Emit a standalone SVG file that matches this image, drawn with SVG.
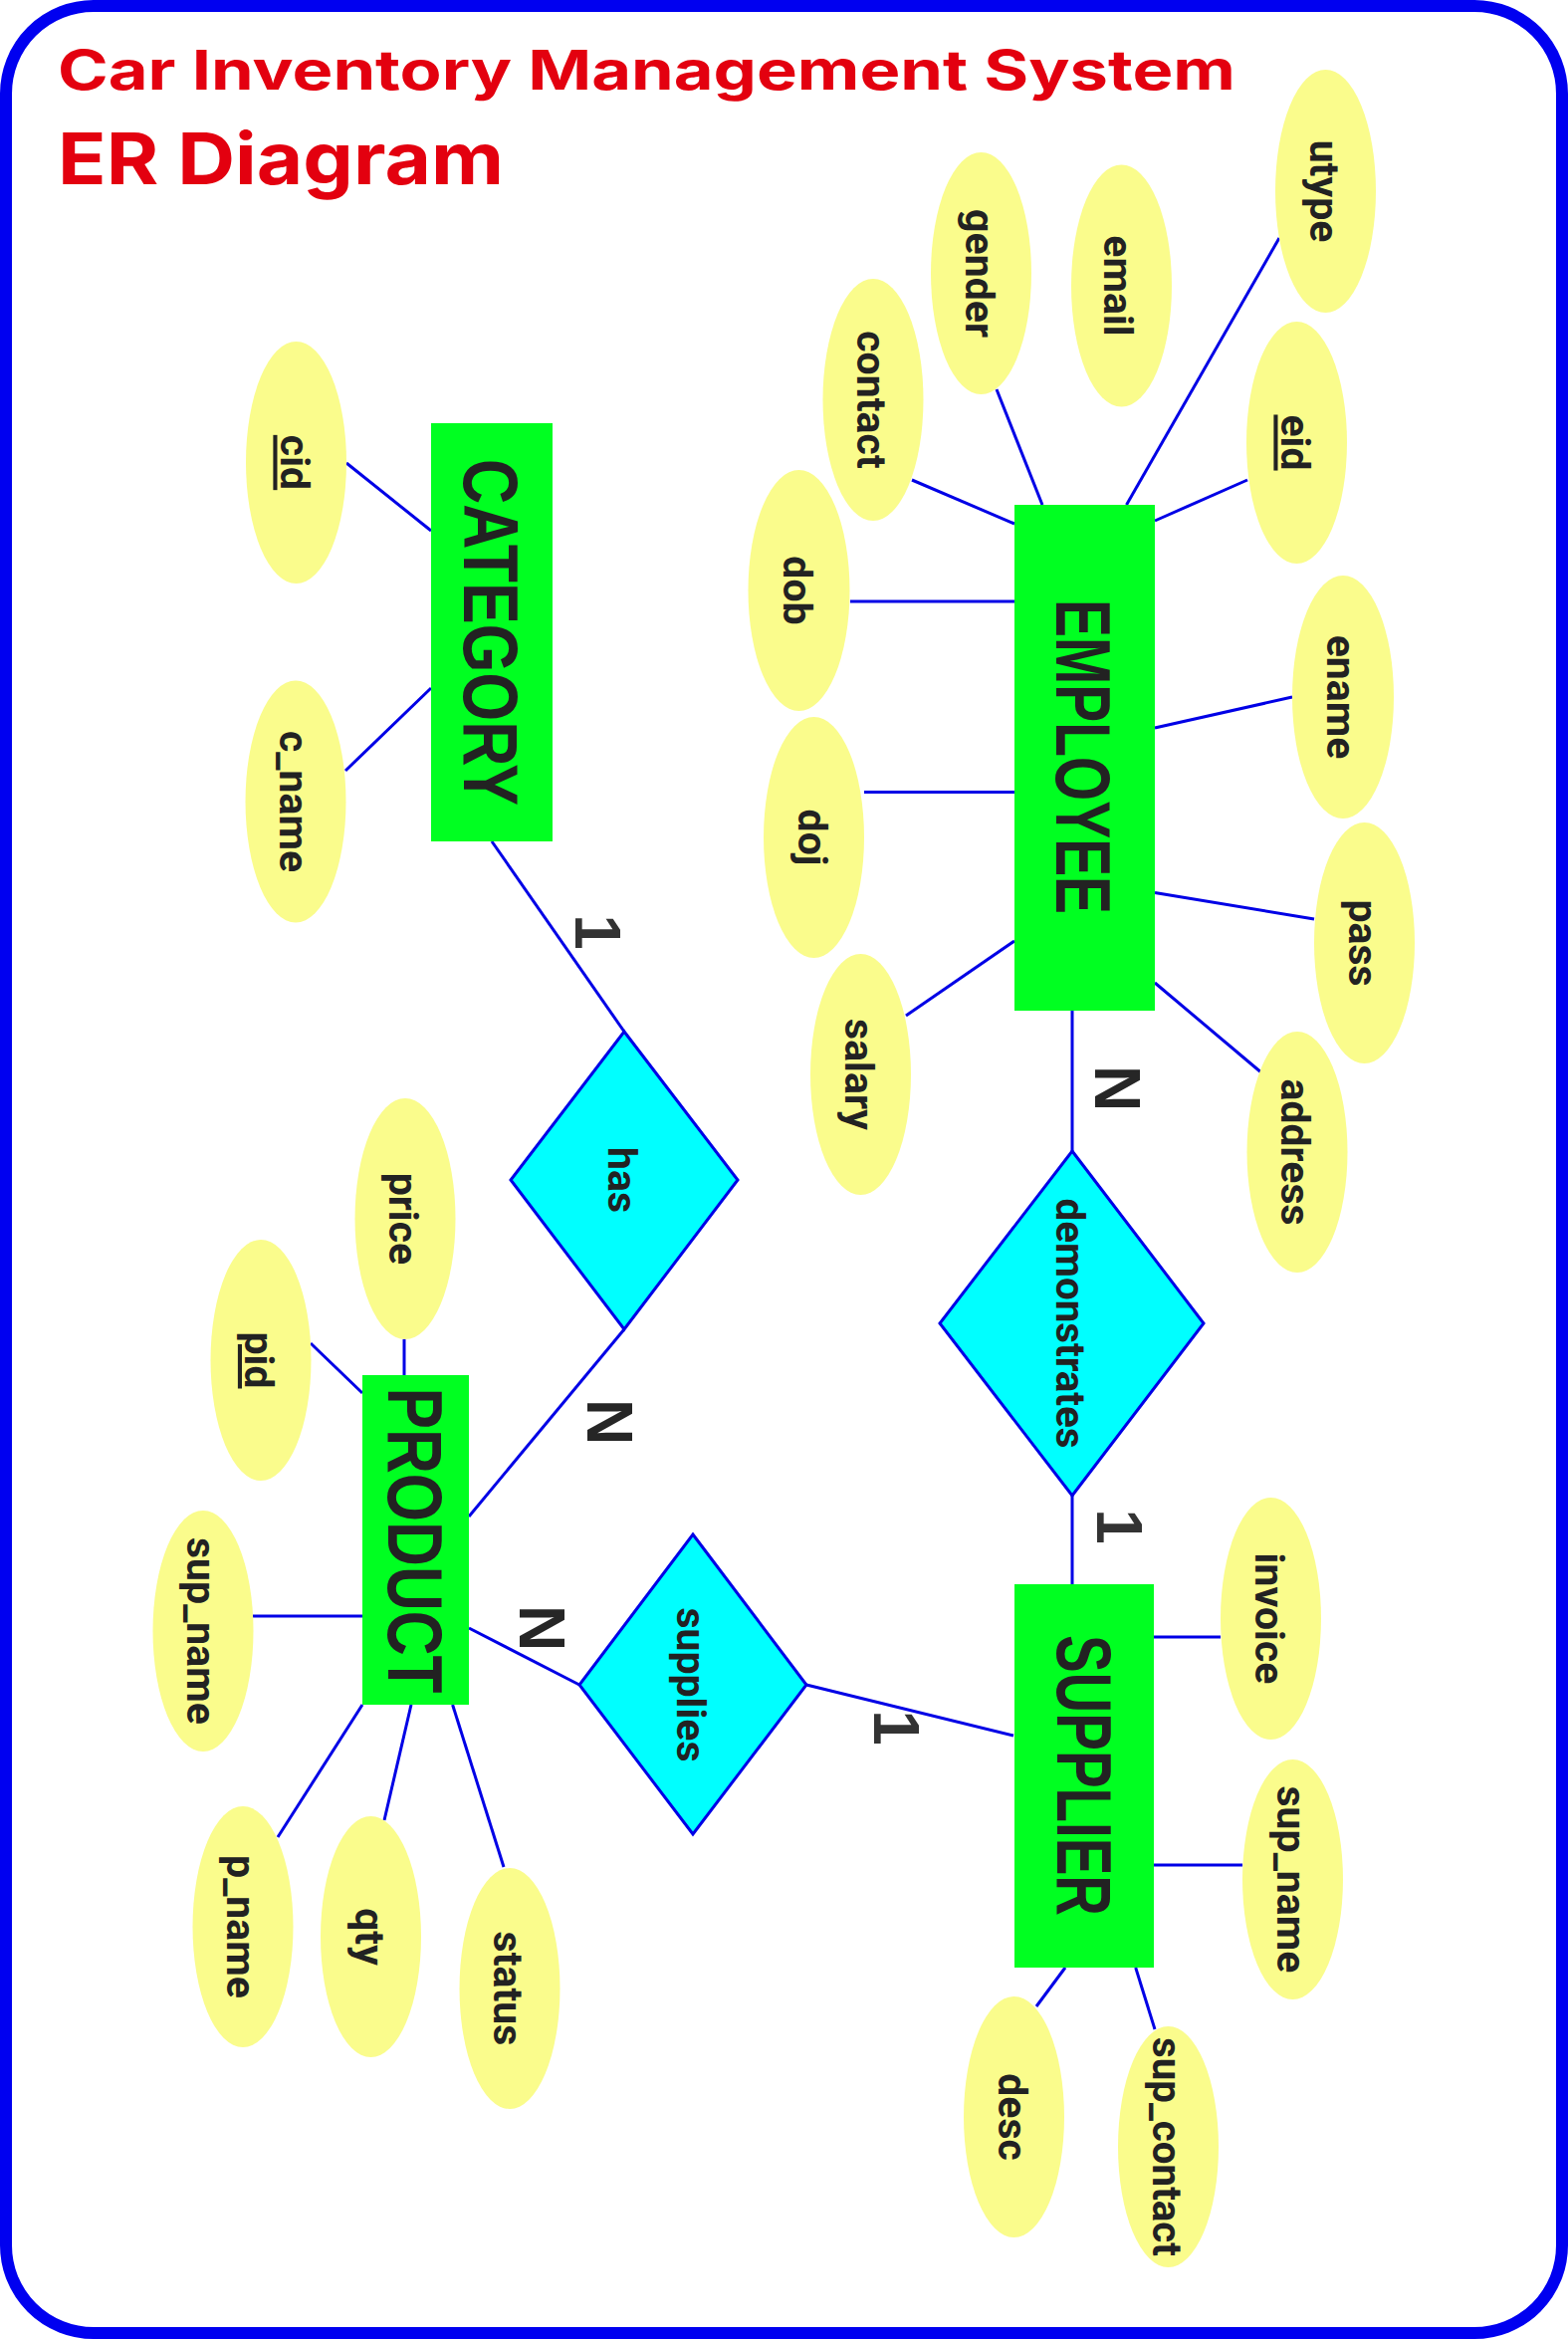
<svg xmlns="http://www.w3.org/2000/svg" width="1575" height="2349" viewBox="0 0 1575 2349">
<style>
.frame{fill:#ffffff;stroke:#0000f0;stroke-width:12}
.title{fill:#e3000f;font-family:Inter,"Open Sans","Liberation Sans",sans-serif;font-weight:700}
.ent rect{fill:#00ff21}
.ent text{fill:#222222;font-family:"Liberation Sans",Arial,sans-serif;font-weight:bold;font-size:78px;text-anchor:middle}
.rel polygon{fill:#00ffff;stroke:#0000e6;stroke-width:3}
.att ellipse{fill:#fafc8c}
.lbl{fill:#222222;font-family:Roboto,"Liberation Sans",Arial,sans-serif;font-weight:bold;font-size:41px;text-anchor:middle}
.key{text-decoration:underline}
.card{fill:#262626;font-family:"Liberation Sans",Arial,sans-serif;font-weight:bold;font-size:64px;text-anchor:middle}
.one{fill:#333333}
#connectors line{stroke:#0000e6;stroke-width:3}
</style>
<rect class="frame" x="6" y="6" width="1563" height="2337" rx="88" ry="88"/>
<text class="title" x="58" y="90" font-size="55" textLength="1183" lengthAdjust="spacingAndGlyphs">Car Inventory Management System</text>
<text class="title" x="58" y="185" font-size="72" textLength="448" lengthAdjust="spacingAndGlyphs">ER Diagram</text>

<g id="connectors">
<line x1="348" y1="465" x2="433" y2="533"/>
<line x1="347" y1="774" x2="433" y2="691"/>
<line x1="1001" y1="391" x2="1047" y2="507"/>
<line x1="1285" y1="239" x2="1131.5" y2="507"/>
<line x1="916" y1="482" x2="1019" y2="526"/>
<line x1="1253" y1="482" x2="1160" y2="523"/>
<line x1="854" y1="604" x2="1019" y2="604"/>
<line x1="1298" y1="700" x2="1160" y2="731"/>
<line x1="868" y1="795.5" x2="1019" y2="795.5"/>
<line x1="1320" y1="923" x2="1160" y2="896.5"/>
<line x1="910" y1="1020" x2="1019" y2="945"/>
<line x1="1268" y1="1078" x2="1160" y2="987"/>
<line x1="406" y1="1345" x2="406" y2="1381"/>
<line x1="312" y1="1349" x2="364" y2="1399"/>
<line x1="254" y1="1623" x2="364" y2="1623"/>
<line x1="279" y1="1845" x2="364" y2="1712"/>
<line x1="386" y1="1828" x2="413" y2="1712"/>
<line x1="506" y1="1875" x2="454.6" y2="1712"/>
<line x1="1159" y1="1644" x2="1226" y2="1644"/>
<line x1="1159" y1="1873" x2="1248" y2="1873"/>
<line x1="1041" y1="2015" x2="1070" y2="1976"/>
<line x1="1160" y1="2038" x2="1140.7" y2="1976"/>
<line x1="494" y1="845" x2="627" y2="1036"/>
<line x1="627" y1="1335" x2="471" y2="1523"/>
<line x1="1077" y1="1015" x2="1077" y2="1156"/>
<line x1="1077" y1="1502" x2="1077" y2="1591"/>
<line x1="471" y1="1635" x2="582" y2="1692"/>
<line x1="810" y1="1692" x2="1018" y2="1743"/>
</g>

<g id="category" class="ent">
<rect x="433" y="425" width="122" height="420"/>
<text transform="translate(494,635) rotate(90)" y="28" textLength="348" lengthAdjust="spacingAndGlyphs">CATEGORY</text>
</g>
<g id="employee" class="ent">
<rect x="1019" y="507" width="141" height="508"/>
<text transform="translate(1089,760) rotate(90)" y="28" textLength="316" lengthAdjust="spacingAndGlyphs">EMPLOYEE</text>
</g>
<g id="product" class="ent">
<rect x="364" y="1381" width="107" height="331"/>
<text transform="translate(417,1547) rotate(90)" y="27" textLength="307" lengthAdjust="spacingAndGlyphs">PRODUCT</text>
</g>
<g id="supplier" class="ent">
<rect x="1019" y="1591" width="140" height="385"/>
<text transform="translate(1089,1783) rotate(90)" y="27" textLength="282" lengthAdjust="spacingAndGlyphs">SUPPLIER</text>
</g>

<g id="has" class="rel">
<polygon points="627,1036 741,1185 627,1335 513,1185"/>
<text class="lbl" transform="translate(627,1185) rotate(90)" y="16">has</text>
</g>
<g id="demonstrates" class="rel">
<polygon points="1077,1156 1209,1329 1077,1502 944,1329"/>
<text class="lbl" transform="translate(1077,1329) rotate(90)" y="16" textLength="251" lengthAdjust="spacingAndGlyphs">demonstrates</text>
</g>
<g id="supplies" class="rel">
<polygon points="696,1541 810,1692 696,1842 582,1692"/>
<text class="lbl" transform="translate(696,1692) rotate(90)" y="16">supplies</text>
</g>

<g id="attr-cid" class="att"><ellipse cx="297.5" cy="464.5" rx="50.5" ry="121.5"/><text class="lbl key" transform="translate(297.5,464.5) rotate(90)" y="16">cid</text></g>
<g id="attr-c_name" class="att"><ellipse cx="297" cy="805" rx="50.5" ry="121.5"/><text class="lbl" transform="translate(297,805) rotate(90)" y="16">c_name</text></g>

<g id="attr-gender" class="att"><ellipse cx="985.5" cy="274.5" rx="50.5" ry="121.5"/><text class="lbl" transform="translate(985.5,274.5) rotate(90)" y="16">gender</text></g>
<g id="attr-email" class="att"><ellipse cx="1126.5" cy="287" rx="50.5" ry="121.5"/><text class="lbl" transform="translate(1126.5,287) rotate(90)" y="18">email</text></g>
<g id="attr-utype" class="att"><ellipse cx="1331.5" cy="192" rx="50.5" ry="122"/><text class="lbl" transform="translate(1331.5,192) rotate(90)" y="16">utype</text></g>
<g id="attr-contact" class="att"><ellipse cx="877" cy="401.5" rx="50.5" ry="121.5"/><text class="lbl" transform="translate(877,401.5) rotate(90)" y="16">contact</text></g>
<g id="attr-eid" class="att"><ellipse cx="1302.5" cy="444.5" rx="50.5" ry="121.5"/><text class="lbl key" transform="translate(1302.5,444.5) rotate(90)" y="16">eid</text></g>
<g id="attr-dob" class="att"><ellipse cx="802.5" cy="593" rx="51" ry="121"/><text class="lbl" transform="translate(802.5,593) rotate(90)" y="16">dob</text></g>
<g id="attr-ename" class="att"><ellipse cx="1349" cy="700" rx="51" ry="122"/><text class="lbl" transform="translate(1349,700) rotate(90)" y="16">ename</text></g>
<g id="attr-doj" class="att"><ellipse cx="817.5" cy="841" rx="50.5" ry="121"/><text class="lbl" transform="translate(817.5,841) rotate(90)" y="16">doj</text></g>
<g id="attr-pass" class="att"><ellipse cx="1370.5" cy="947" rx="50.5" ry="121"/><text class="lbl" transform="translate(1370.5,947) rotate(90)" y="16">pass</text></g>
<g id="attr-salary" class="att"><ellipse cx="864.5" cy="1079" rx="50.5" ry="121"/><text class="lbl" transform="translate(864.5,1079) rotate(90)" y="16">salary</text></g>
<g id="attr-address" class="att"><ellipse cx="1303" cy="1157" rx="50.5" ry="121"/><text class="lbl" transform="translate(1303,1157) rotate(90)" y="16">address</text></g>

<g id="attr-price" class="att"><ellipse cx="407" cy="1224" rx="50.5" ry="121"/><text class="lbl" transform="translate(407,1224) rotate(90)" y="16">price</text></g>
<g id="attr-pid" class="att"><ellipse cx="262" cy="1366" rx="50.5" ry="121"/><text class="lbl key" transform="translate(262,1366) rotate(90)" y="16">pid</text></g>
<g id="attr-p_sup_name" class="att"><ellipse cx="204" cy="1638" rx="50.5" ry="121"/><text class="lbl" transform="translate(204,1638) rotate(90)" y="16">sup_name</text></g>
<g id="attr-p_name" class="att"><ellipse cx="244" cy="1935" rx="50.5" ry="121"/><text class="lbl" transform="translate(244,1935) rotate(90)" y="16">p_name</text></g>
<g id="attr-qty" class="att"><ellipse cx="372.5" cy="1945" rx="50.5" ry="121"/><text class="lbl" transform="translate(372.5,1945) rotate(90)" y="16">qty</text></g>
<g id="attr-status" class="att"><ellipse cx="512" cy="1997" rx="50.5" ry="121"/><text class="lbl" transform="translate(512,1997) rotate(90)" y="16">status</text></g>

<g id="attr-invoice" class="att"><ellipse cx="1276.5" cy="1625.5" rx="50.5" ry="121.5"/><text class="lbl" transform="translate(1276.5,1625.5) rotate(90)" y="16">invoice</text></g>
<g id="attr-s_sup_name" class="att"><ellipse cx="1298.5" cy="1887.5" rx="50.5" ry="120.5"/><text class="lbl" transform="translate(1298.5,1887.5) rotate(90)" y="16">sup_name</text></g>
<g id="attr-desc" class="att"><ellipse cx="1018.5" cy="2126" rx="50.5" ry="121"/><text class="lbl" transform="translate(1018.5,2126) rotate(90)" y="16">desc</text></g>
<g id="attr-sup_contact" class="att"><ellipse cx="1173.5" cy="2156" rx="50.5" ry="121"/><text class="lbl" transform="translate(1173.5,2156) rotate(90)" y="16" textLength="220" lengthAdjust="spacingAndGlyphs">sup_contact</text></g>

<g id="cardinalities">
<text class="card one" transform="translate(601,936) rotate(90)" y="23">1</text>
<text class="card" transform="translate(613,1428) rotate(90)" y="23">N</text>
<text class="card" transform="translate(1123,1093) rotate(90)" y="23">N</text>
<text class="card one" transform="translate(1125,1533) rotate(90)" y="23">1</text>
<text class="card" transform="translate(545,1635) rotate(90)" y="23">N</text>
<text class="card one" transform="translate(901,1735) rotate(90)" y="23">1</text>
</g>
</svg>
